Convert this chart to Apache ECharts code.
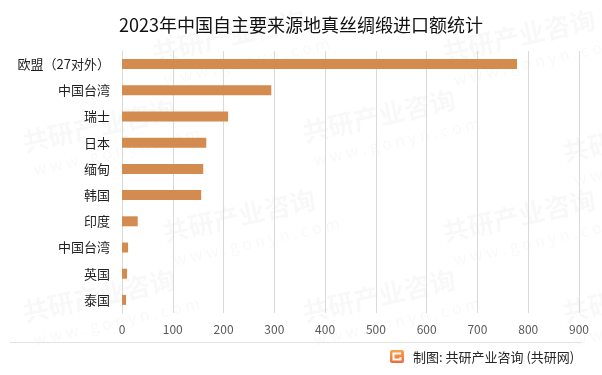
<!DOCTYPE html>
<html>
<head>
<meta charset="utf-8">
<script src="https://cdn.jsdelivr.net/npm/echarts@6/dist/echarts.min.js"></script>
<style>
html,body{margin:0;padding:0;background:#fff;}
#c{width:602px;height:375px;}
</style>
</head>
<body>
<div id="c"></div>
<script>
var titleText = '2023年中国自主要来源地真丝绸缎进口额统计';
var categories = ['欧盟（27对外）', '中国台湾', '瑞士', '日本', '缅甸', '韩国', '印度', '中国台湾', '英国', '泰国'];
var values = [778, 294, 209, 166, 160, 156, 31, 12, 10, 8];
var xTicks = [0, 100, 200, 300, 400, 500, 600, 700, 800, 900];
var sourceText = '制图: 共研产业咨询 (共研网)';

var FONT = '"Noto Sans CJK SC", "Noto Sans", sans-serif';
var chart = echarts.init(document.getElementById('c'), null, {renderer: 'canvas'});

var wm = [];
var wmPos = [[150,40],[440,40],[20,130],[300,120],[560,140],[160,220],[440,220],[20,300],[300,300],[560,300]];
wmPos.forEach(function(p){
  wm.push({type:'text', x:p[0], y:p[1], rotation: 0.22, silent:true, z:0,
    style:{text:'共研产业咨询', fill:'rgba(0,0,0,0.028)', font:'bold 26px ' + FONT}});
  wm.push({type:'text', x:p[0]+12, y:p[1]+32, rotation: 0.22, silent:true, z:0,
    style:{text:'w w w . g o n y n . c o m', fill:'rgba(0,0,0,0.028)', font:'16px ' + FONT}});
});

var option = {
  backgroundColor: '#ffffff',
  animation: false,
  title: {
    text: titleText,
    left: 'center',
    top: 11,
    textStyle: {fontFamily: FONT, fontSize: 18, fontWeight: 'normal', color: '#111'}
  },
  grid: {left: 122, right: 23, top: 51, bottom: 62, containLabel: false},
  xAxis: {
    type: 'value',
    min: 0, max: 900, interval: 100,
    axisLine: {show: false},
    axisTick: {show: false},
    axisLabel: {
      color: '#595959', fontSize: 12, fontFamily: FONT, margin: 10,
      formatter: function(v){ return xTicks.indexOf(v) >= 0 ? String(v) : ''; }
    },
    splitLine: {show: true, lineStyle: {color: '#d9d9d9', width: 1}}
  },
  yAxis: {
    type: 'category',
    inverse: true,
    data: categories,
    axisLine: {show: true, lineStyle: {color: '#d9d9d9', width: 1}},
    axisTick: {show: false},
    axisLabel: {color: '#1f1f1f', fontSize: 13, fontFamily: FONT, margin: 12, interval: 0}
  },
  series: [{
    type: 'bar',
    data: values,
    barWidth: 10,
    itemStyle: {color: '#D48B4F'},
    z: 3
  }],
  graphic: wm.concat([
    {type:'line', silent:true, shape:{x1:10, y1:342.5, x2:582, y2:342.5}, style:{stroke:'#e3e3e3', lineWidth:1}},
    {type:'rect', silent:true, shape:{x:390, y:350, width:14, height:13, r:2},
      style:{fill:{type:'linear', x:0, y:0, x2:0, y2:1, colorStops:[{offset:0,color:'#F9A44A'},{offset:1,color:'#F06A3A'}]}}},
    {type:'polyline', silent:true, shape:{points:[[401,353.5],[393.5,353.5],[393.5,359.5],[400.5,359.5],[400.5,357]]},
      style:{stroke:'#fff', lineWidth:2, fill:null}},
    {type:'text', silent:true, x:413, y:357, style:{text:sourceText, fill:'#262626', font:'13px ' + FONT, textVerticalAlign:'middle'}}
  ])
};
chart.setOption(option);
</script>
</body>
</html>
